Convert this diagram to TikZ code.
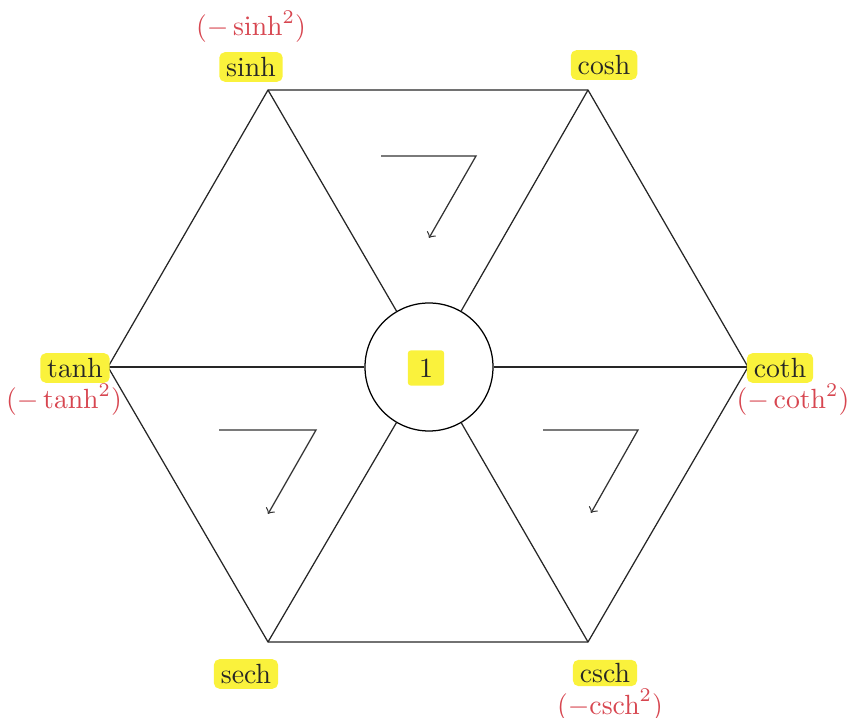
\documentclass[tikz,border=0pt]{standalone}
\usepackage{amsmath}
\definecolor{hl}{RGB}{250,242,60}
\definecolor{redlab}{RGB}{215,70,80}
\begin{document}
\begin{tikzpicture}[x=0.36pt,y=-0.36pt,
  edge/.style={line width=0.45pt,draw=black!85},
  flow/.style={line width=0.45pt,draw=black!80,-to},
  fn/.style={fill=hl,rounded corners=2pt,inner xsep=2.5pt,inner ysep=1.8pt,text=black!85},
  neg/.style={text=redlab,inner sep=0.3pt}]
\useasboundingbox (0,0) rectangle (847,718);
% vertices
\coordinate (vs) at (268,90);
\coordinate (vc) at (588,90);
\coordinate (vk) at (748,367);
\coordinate (vx) at (588,642);
\coordinate (ve) at (268,642);
\coordinate (vt) at (108,367);
% centre circle
\node[draw,line width=0.45pt,circle,minimum size=128*0.36pt,inner sep=0pt] (c) at (429,367) {};
\node[fill=hl,rounded corners=1pt,inner xsep=4pt,inner ysep=3pt,text=black!85] (one) at (426,368) {1};
% hexagon
\draw[edge] (vs) -- (vc) -- (vk) -- (vx) -- (ve) -- (vt) -- cycle;
% spokes
\draw[edge] (vs) -- (c);
\draw[edge] (vc) -- (c);
\draw[edge] (vx) -- (c);
\draw[edge] (ve) -- (c);
\draw[edge] (vt) -- (c);
\draw[edge] (vk) -- (c);
% labels
\node[fn] (lsinh) at (251,67) {sinh};
\node[neg] (nsinh) at (251,27) {$(-\sinh^2)$};
\node[fn] (lcosh) at (604,65) {cosh};
\node[fn] (ltanh) at (75,368) {tanh};
\node[neg] (ntanh) at (64,400) {$(-\tanh^2)$};
\node[fn] (lcoth) at (780,368) {coth};
\node[neg] (ncoth) at (793,400) {$(-\coth^2)$};
\node[fn] (lsech) at (246,674) {sech};
\node[fn,inner ysep=1.2pt] (lcsch) at (605,673) {csch};
\node[neg] (ncsch) at (610,705) {$(-\mathrm{csch}^2)$};
% flow arrows
\coordinate (a1s) at (381,156); \coordinate (a1m) at (476,156); \coordinate (a1e) at (429,238);
\coordinate (a2s) at (219,430); \coordinate (a2m) at (316,430); \coordinate (a2e) at (268,514);
\coordinate (a3s) at (543,430); \coordinate (a3m) at (638,430); \coordinate (a3e) at (591,513);
\draw[flow] (a1s) -- (a1m) -- (a1e);
\draw[flow] (a2s) -- (a2m) -- (a2e);
\draw[flow] (a3s) -- (a3m) -- (a3e);
\end{tikzpicture}
\end{document}
